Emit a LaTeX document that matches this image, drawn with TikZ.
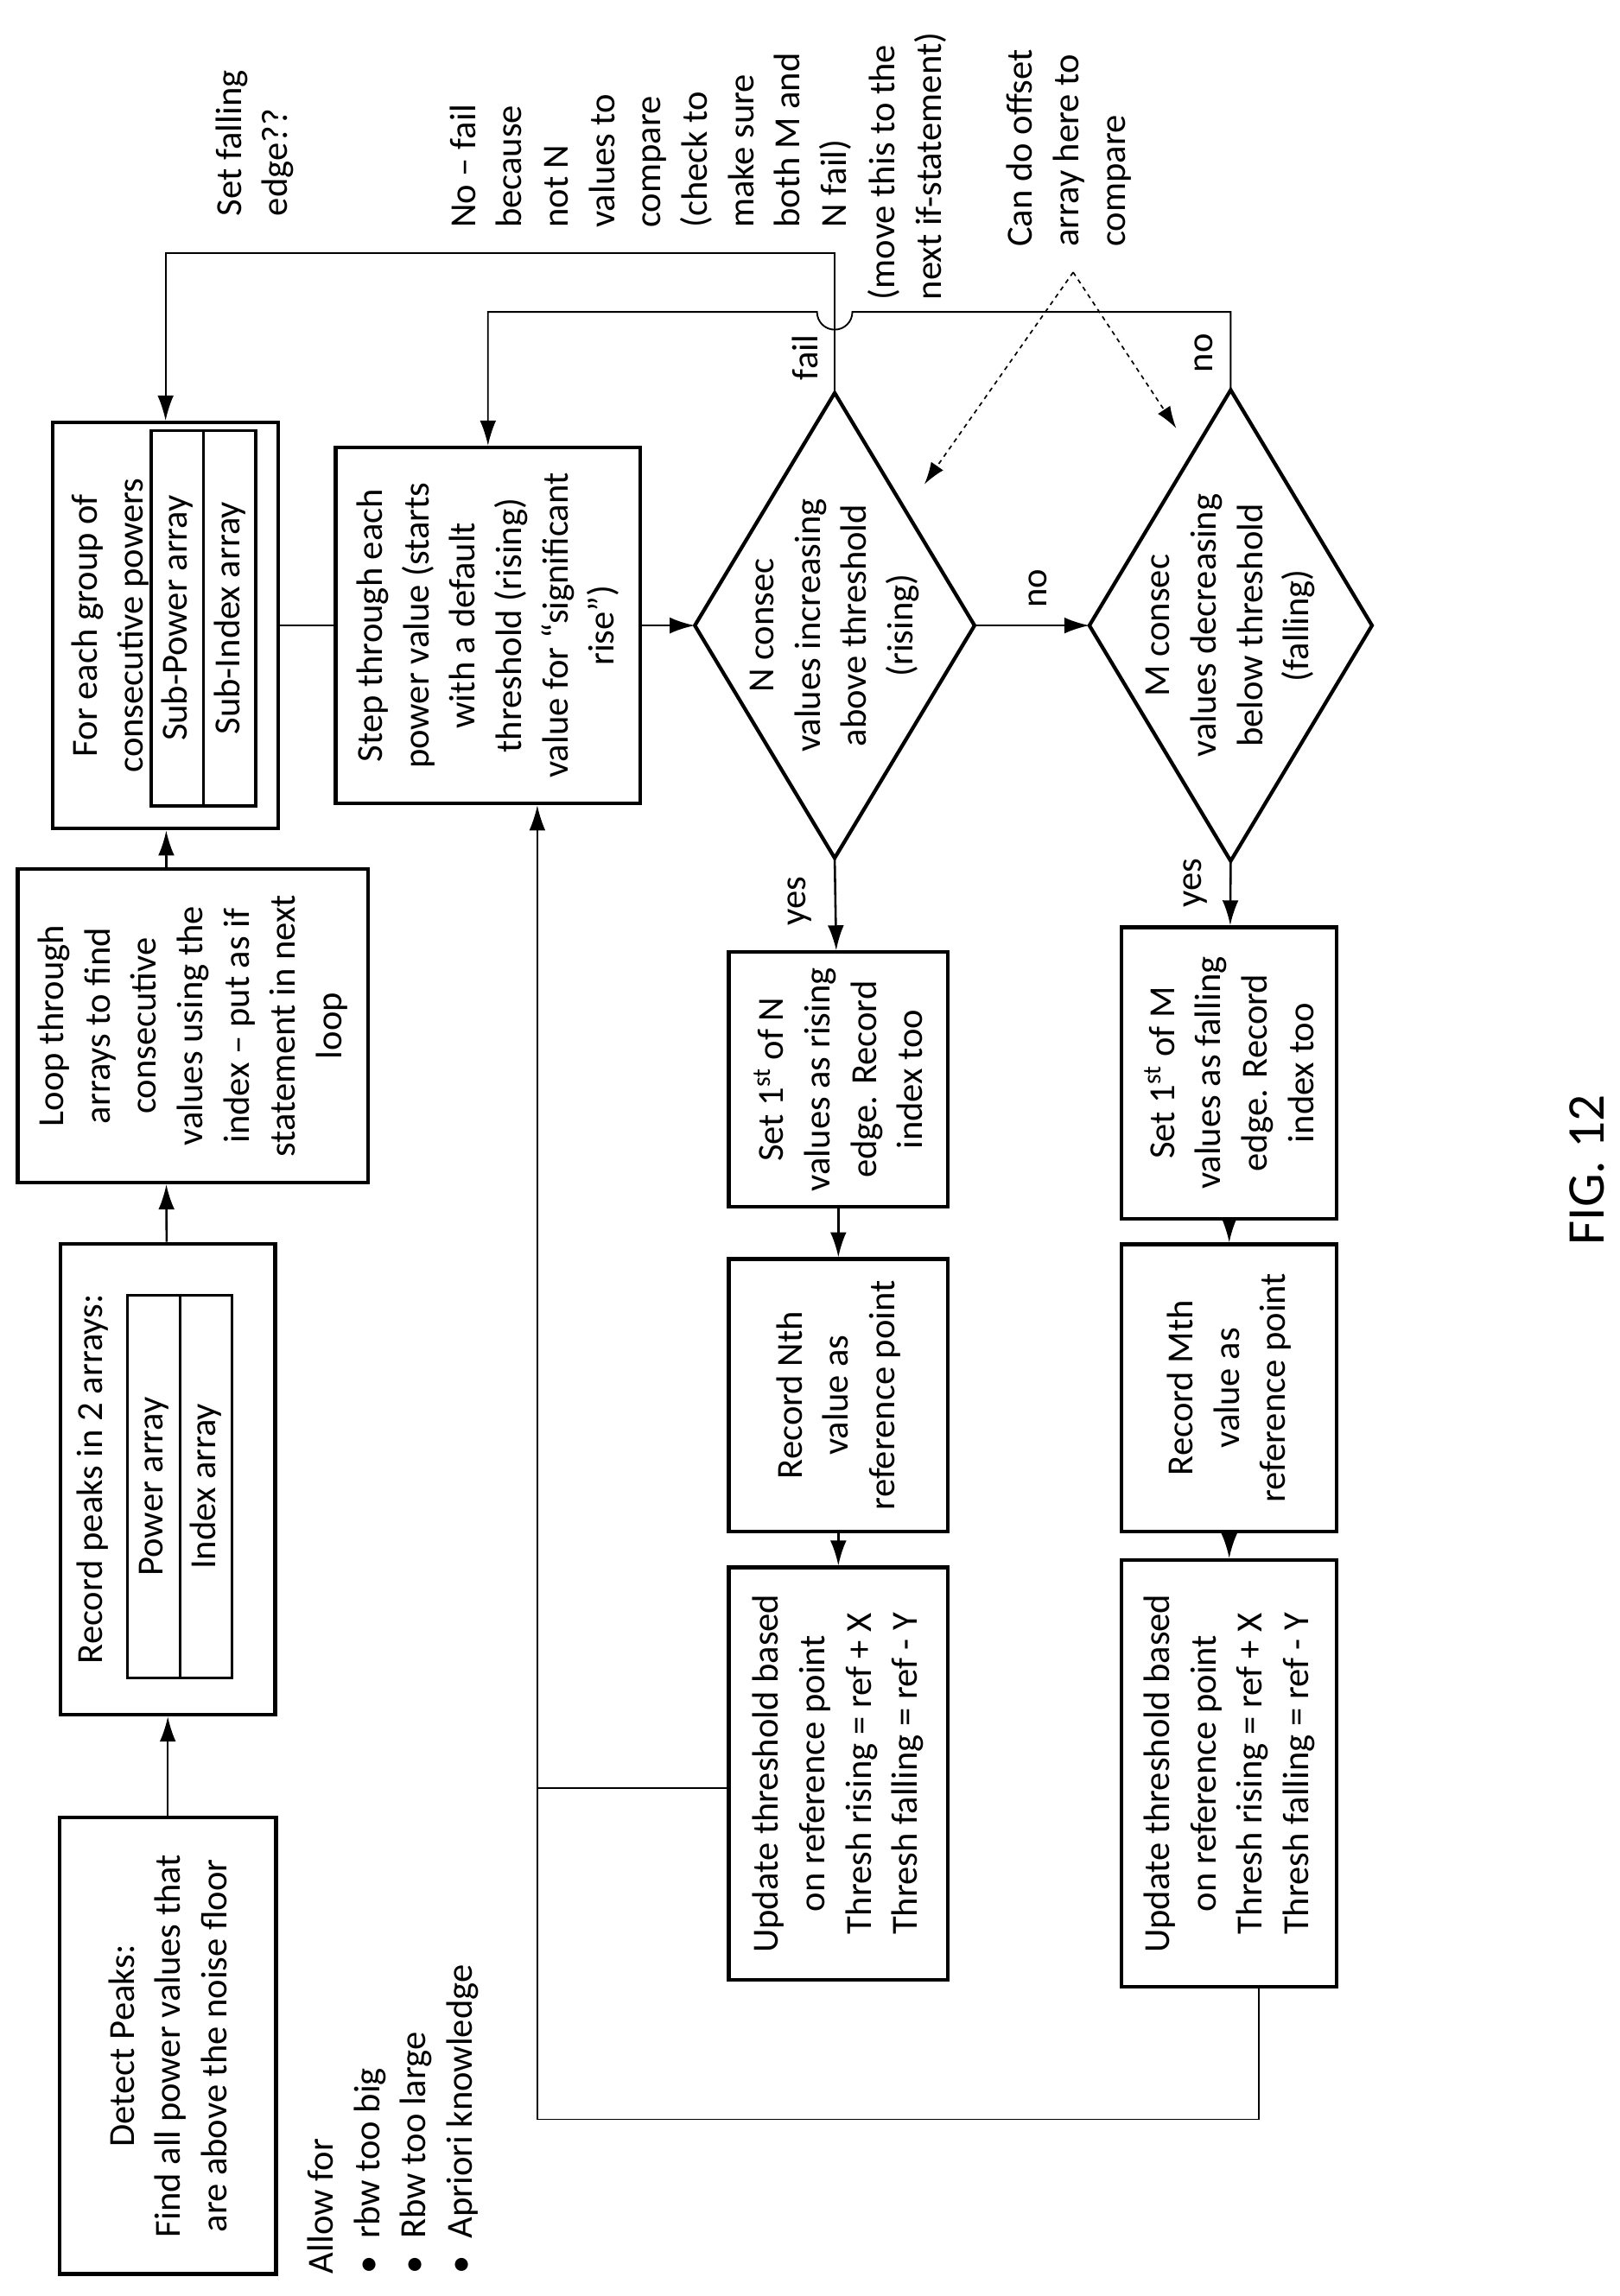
\documentclass[tikz,border=0pt]{standalone}
\usepackage{fontspec}
\setmainfont{Carlito}
\usetikzlibrary{arrows.meta}
\tikzset{
  box/.style={draw, line width=2.5pt, align=center, inner sep=2pt},
  cell/.style={draw, line width=2pt, minimum height=35.5pt, inner sep=1pt},
  outline/.style={line width=2.5pt, line join=miter},
  lbl/.style={align=left, inner sep=0pt},
  link/.style={line width=1.5pt},
  flow/.style={line width=1.5pt, -{Latex[length=17pt,width=11pt]}},
  back/.style={line width=1.1pt, -{Latex[length=17pt,width=11pt]}},
}
\begin{document}
\begin{tikzpicture}[x=1pt,y=1pt,rotate=90,transform shape,font=\fontsize{25}{31.5}\selectfont]
\useasboundingbox (0,0) rectangle (1560,1100);

% boxes of the first row
\node[box, minimum width=310, minimum height=147] (detect) at (170,986) {Detect Peaks:\\Find all power values that\\are above the noise floor};
\node[box, minimum width=320, minimum height=146] (record) at (555,986) {};
\node[lbl] (recordt) at (555,1037) {Record peaks in 2 arrays:};
\node[cell, minimum width=260] (powarr) at (550,995.5) {Power array};
\node[cell, minimum width=260] (idxarr) at (550,960) {Index array};
\node[box, minimum width=213, minimum height=238] (loop) at (863,969) {Loop through\\arrays to find\\consecutive\\values using the\\index -- put as if\\statement in next\\loop};
\node[box, minimum width=276, minimum height=153] (group) at (1135,987.5) {};
\node[lbl, align=center] (groupt) at (1135,1025) {For each group of\\consecutive powers};
\node[cell, minimum width=255] (subpow) at (1140,979.5) {Sub-Power array};
\node[cell, minimum width=255] (subidx) at (1140,944) {Sub-Index array};
\node[box, minimum width=242, minimum height=207] (step) at (1135,768.5) {Step through each\\power value (starts\\with a default\\threshold (rising)\\value for “significant\\rise”)};

% decisions
\coordinate (dNw) at (977,533);
\coordinate (dNe) at (1293,533);
\coordinate (dNn) at (1135,628);
\coordinate (dNs) at (1135,438);
\draw[outline] (dNw) -- (dNn) -- (dNe) -- (dNs) -- cycle;
\node[lbl, align=center] (dN) at (1135,533) {N consec\\values increasing\\above threshold\\(rising)};
\coordinate (dMw) at (975,264);
\coordinate (dMe) at (1295,264);
\coordinate (dMn) at (1135,360);
\coordinate (dMs) at (1135,168);
\draw[outline] (dMw) -- (dMn) -- (dMe) -- (dMs) -- cycle;
\node[lbl, align=center] (dM) at (1135,264) {M consec\\values decreasing\\below threshold\\(falling)};

% rising branch
\node[box, minimum width=173, minimum height=149] (setN) at (826.5,530.5) {Set 1\textsuperscript{st} of N\\values as rising\\edge. Record\\index too};
\node[box, minimum width=185, minimum height=149] (recN) at (612,530.5) {Record Nth\\value as\\reference point};
\node[box, minimum width=280, minimum height=149] (updN) at (355,530.5) {Update threshold based\\on reference point\\Thresh rising = ref + X\\Thresh falling = ref - Y};

% falling branch
\node[box, minimum width=198, minimum height=146] (setM) at (831,265) {Set 1\textsuperscript{st} of M\\values as falling\\edge. Record\\index too};
\node[box, minimum width=195, minimum height=146] (recM) at (617,265) {Record Mth\\value as\\reference point};
\node[box, minimum width=290, minimum height=146] (updM) at (355,265) {Update threshold based\\on reference point\\Thresh rising = ref + X\\Thresh falling = ref - Y};

% connectors
\draw[flow] (detect) -- (record);
\draw[flow] (record) -- ([yshift=18]loop.west);
\draw[flow] ([yshift=18]loop.east) -- (group);
\draw[link] (group) -- (step);
\draw[flow] (step) -- (dNn);
\draw[flow] (dNs) -- (dMn);
\draw[flow] (dNw) -- (setN);
\draw[flow] (setN) -- (recN);
\draw[flow] (recN) -- (updN);
\draw[flow] (dMw) -- (setM);
\draw[flow] (setM) -- (recM);
\draw[flow] (recM) -- (updM);

% loop back
\coordinate (backA) at (120,245);
\coordinate (backB) at (120,735);
\coordinate (backN) at (345,735);
\draw[back] ([yshift=-20]updM.west) -- (backA) -- (backB) -- ([yshift=-33.5]step.west);
\draw[line width=1.1pt] ([xshift=-10]updN.north) -- (backN);

% fail and no returns
\coordinate (failA) at (1388,533);
\coordinate (failB) at (1388,987.5);
\draw[back] (dNe) -- (failA) -- (failB) -- (group);
\coordinate (skipA) at (1348,264);
\coordinate (hopIn) at (1348,521);
\coordinate (skipB) at (1348,768.5);
\draw[back] (dMe) -- (skipA) -- (hopIn) arc[start angle=-90, end angle=-270, radius=12] -- (skipB) -- (step);

% offset hint
\coordinate (offSrc) at (1375,371);
\coordinate (offN) at (1231,472);
\coordinate (offM) at (1269,301);
\draw[line width=1pt, dashed, -{Latex[length=15pt,width=10pt]}] (offSrc) -- (offN);
\draw[line width=1pt, dashed, -{Latex[length=15pt,width=10pt]}] (offSrc) -- (offM);

% labels
\node[lbl] (yesN) at (948,557) {yes};
\node[lbl] (yesM) at (960,288) {yes};
\node[lbl] (noN) at (1160,395) {no};
\node[lbl] (noM) at (1320,282) {no};
\node[lbl] (failN) at (1317,553) {fail};

% notes
\node[lbl, anchor=west] (fallq) at (1413,927) {Set falling\\edge??};
\node[lbl, anchor=west] (failnote) at (1405,658) {No -- fail\\because\\not N\\values to\\compare\\(check to\\make sure\\both M and\\N fail)};
\node[lbl, anchor=west] (movenote) at (1356,484) {(move this to the\\next if-statement)};
\node[lbl, anchor=west] (offnote) at (1392,374) {Can do offset\\array here to\\compare};
\node[lbl, anchor=west] (allow) at (15,833) {Allow for\\\textbullet\ \ rbw too big\\\textbullet\ \ Rbw too large\\\textbullet\ \ Apriori knowledge};
\node[lbl, font=\fontsize{36}{40}\selectfont] (fig) at (765,22) {FIG. 12};
\end{tikzpicture}
\end{document}
